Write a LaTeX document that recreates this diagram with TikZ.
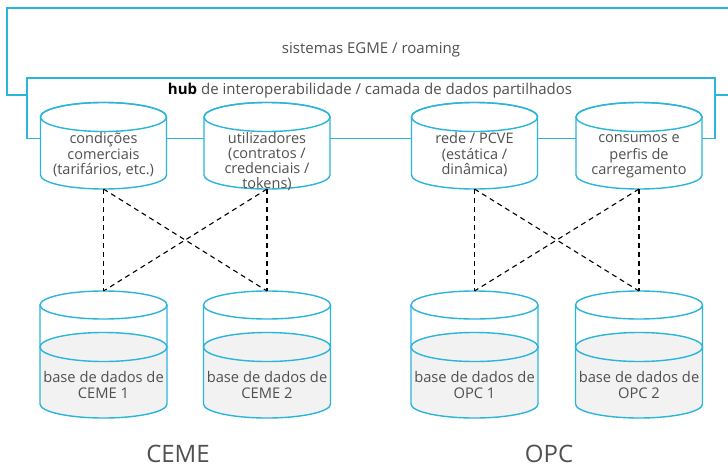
\documentclass[tikz,border=0pt]{standalone}
\usepackage{fontspec}
\setmainfont{Open Sans}
\definecolor{hubcyan}{HTML}{2BB5DA}
\definecolor{txtgray}{HTML}{505050}
\definecolor{levelgray}{HTML}{F2F2F2}

\tikzset{
  frame/.style={draw=hubcyan, line width=1.4pt},
  label/.style={text=txtgray, font=\fontsize{14.5}{15}\selectfont, inner sep=0pt, align=center},
  title/.style={text=txtgray, font=\fontsize{15}{16}\selectfont, inner sep=0pt},
  dblabel/.style={text=txtgray, font=\fontsize{14.7}{13.5}\selectfont, inner sep=0pt, align=center},
  grouplabel/.style={text=txtgray, font=\fontsize{24}{28}\selectfont, inner sep=0pt},
  link/.style={draw=black, line width=1.1pt, dash pattern=on 5pt off 4pt},
  hull/.style={inner sep=0pt, outer sep=0pt},
  % shared-data cylinder inside the hub
  topcyl/.pic={
    \path[frame, fill=white] (-63,350) -- (-63,292)
      arc[start angle=180, end angle=360, x radius=63, y radius=14]
      -- (63,350) arc[start angle=0, end angle=180, x radius=63, y radius=14.5] -- cycle;
    \draw[frame] (0,350) ellipse[x radius=63, y radius=14.5];
  },
  % operator database cylinder, partly filled
  dbcyl/.pic={
    \path[fill=white] (-63.5,162) -- (-63.5,63)
      arc[start angle=180, end angle=360, x radius=63.5, y radius=14]
      -- (63.5,162) arc[start angle=0, end angle=180, x radius=63.5, y radius=14] -- cycle;
    \path[fill=levelgray] (-63.5,120)
      arc[start angle=180, end angle=0, x radius=63.5, y radius=14.5]
      -- (63.5,63) arc[start angle=0, end angle=-180, x radius=63.5, y radius=14] -- cycle;
    \draw[frame] (-63.5,162) -- (-63.5,63)
      arc[start angle=180, end angle=360, x radius=63.5, y radius=14] -- (63.5,162);
    \draw[frame] (0,162) ellipse[x radius=63.5, y radius=14];
    \draw[frame] (0,120) ellipse[x radius=63.5, y radius=14.5];
  }
}

\begin{document}
\begin{tikzpicture}[x=1pt, y=1pt]
\clip (0,0) rectangle (728,467);

% outer frame: roaming systems
\draw[frame] (7,372) rectangle (745,459);
\node[title, anchor=base] (egme) at (371,413) {sistemas EGME / roaming};

% hub frame
\draw[frame, fill=white] (27,328.5) rectangle (715,389);
\node[title, anchor=base] (hubtitle) at (370,373)
  {\textcolor{black}{\textbf{hub}} de interoperabilidade / camada de dados partilhados};

% shared data cylinders
\foreach \cx in {103.5,267,474.5,639} {
  \pic at (\cx,0) {topcyl};
}
\node[hull, minimum width=127, minimum height=86.5] (t1) at (103.5,321.25) {};
\node[hull, minimum width=127, minimum height=86.5] (t2) at (267,321.25) {};
\node[hull, minimum width=127, minimum height=86.5] (t3) at (474.5,321.25) {};
\node[hull, minimum width=127, minimum height=86.5] (t4) at (639,321.25) {};

\node[label, anchor=north] (t1txt) at (103.5,335) {\strut condições\\comerciais\\(tarifários, etc.)};
\node[label, anchor=north] (t2txt) at (267,335) {\strut utilizadores\\(contratos /\\credenciais /\\tokens)};
\node[label, anchor=north] (t3txt) at (474.5,335) {\strut rede / PCVE\\(estática /\\dinâmica)};
\node[label, anchor=north] (t4txt) at (639,335) {\strut consumos e\\perfis de\\carregamento};

% operator databases
\foreach \cx in {103.5,267,474.5,639} {
  \pic at (\cx,0) {dbcyl};
}
\node[hull, minimum width=127, minimum height=127] (b1) at (103.5,112.5) {};
\node[hull, minimum width=127, minimum height=127] (b2) at (267,112.5) {};
\node[hull, minimum width=127, minimum height=127] (b3) at (474.5,112.5) {};
\node[hull, minimum width=127, minimum height=127] (b4) at (639,112.5) {};

\node[dblabel, anchor=north] (b1txt) at (103.5,95.45) {\strut base de dados de\\CEME 1};
\node[dblabel, anchor=north] (b2txt) at (267,95.45) {\strut base de dados de\\CEME 2};
\node[dblabel, anchor=north] (b3txt) at (474.5,95.45) {\strut base de dados de\\OPC 1};
\node[dblabel, anchor=north] (b4txt) at (639,95.45) {\strut base de dados de\\OPC 2};

% data exchange links
\draw[link] (t1.south) -- (b1.north);
\draw[link] (t1.south) -- (b2.north);
\draw[link] (t2.south) -- (b1.north);
\draw[link] (t2.south) -- (b2.north);
\draw[link] (t3.south) -- (b3.north);
\draw[link] (t3.south) -- (b4.north);
\draw[link] (t4.south) -- (b3.north);
\draw[link] (t4.south) -- (b4.north);

% group labels
\node[grouplabel, anchor=base] (ceme) at (178,5) {CEME};
\node[grouplabel, anchor=base] (opc) at (549,5) {OPC};
\end{tikzpicture}
\end{document}
